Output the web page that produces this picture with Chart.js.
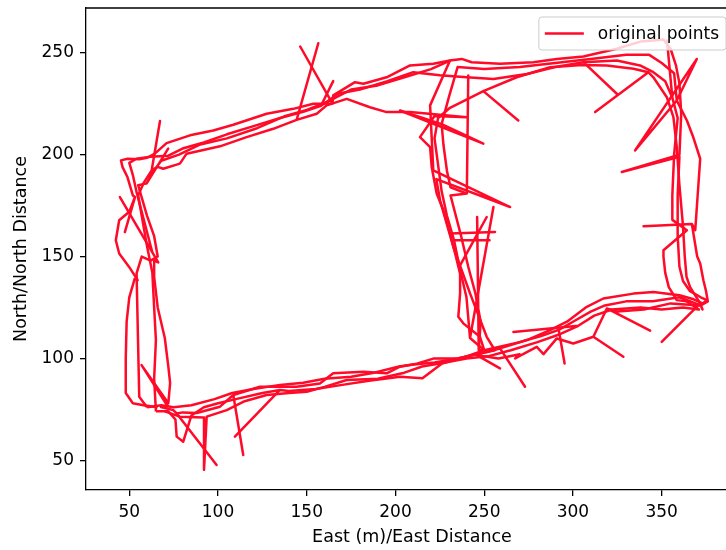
<!DOCTYPE html>
<html>
<head>
<meta charset="utf-8">
<script src="https://cdn.jsdelivr.net/npm/chart.js@4.4.0/dist/chart.umd.min.js"></script>
<style>
html, body { margin: 0; padding: 0; background: #fff; overflow: hidden; }
#wrap { width: 746px; height: 550px; }
</style>
</head>
<body>
<div id="wrap"><canvas id="track" width="746" height="550"></canvas></div>
<script>
// [east, north] pairs, one array per lap
const outerLap1 = [[66,76],[58,77],[52,78],[48,83],[48,100],[48.5,118],[50,130],[53,139],[54.7,138.4],[49.9,144.9],[44.3,151.5],[42.4,158],[44.3,167.8],[50,172],[53.2,179.2],[47.5,162],[53.2,179.2],[52,180],[49,188.9],[46.2,193.9],[45.3,197.2],[49,198],[55.6,197.8],[60,198.5],[64.4,200.5],[71,205.7],[84.2,209.5],[97.3,211.9],[108.6,214.7],[127.4,220.1],[142.4,222.5],[153.7,225],[164.5,225.1],[146.3,253.1],[164.5,225.1],[164.9,229.1],[177.2,235.6],[181.9,234.8],[195,238],[208.2,243.8],[221.3,244.6],[230.7,246.2],[237.3,247],[242.9,245.4],[258.9,244.6],[277.7,245.4],[290.9,247],[305.9,248.2],[324.7,252],[338,255.5],[345.3,256],[351,256.5],[355,252],[358,244],[360,235],[361,220],[360,200],[327.5,191.5],[360,199],[359,180],[359,160],[360,145],[362,138],[366,133],[372,130],[375.5,128.6],[373,127],[368,129],[360,131],[345.3,132.6],[334.1,131.8],[317.1,129.4],[307.8,125.3],[296.6,118],[287.1,113.9],[274,109],[258.9,104.9],[273,86.1],[258.9,104.9],[247.6,102.4],[234.5,99.9],[221.3,99.9],[212,97.4],[202.5,95.9],[195,92.7],[181.9,93.4],[164.9,92.7],[157.4,87.7],[144.3,86.1],[123.6,86.1],[108.6,82],[114.2,52.6],[108.6,82],[101.1,76.3],[88,73.2],[80,73.5],[76.7,73],[99.2,47.7],[76.7,73],[74.8,74.6],[67.3,76.3]];

const outerLap2 = [[72,76],[56.9,96.7],[72,78],[73,88],[72,96],[70,110],[66,125],[64,140],[64,148],[66.3,147.1],[44.7,179.2],[66.3,147.1],[63,152],[57,172],[54,182],[52,190],[50,196],[54,198],[62,199],[72,199.5],[80,203],[92,206],[105,210],[120,214],[135,218],[148,221],[158,224],[164.9,236.1],[158,224],[168,230],[180,232],[195,236],[210,240.5],[225,239],[240.2,238],[255.2,237.2],[274,239.6],[290,243],[305.9,245.4],[324.7,229.9],[305.9,245.4],[324.7,246.2],[337.8,243.8],[345.3,240.5],[352,236],[356,228],[353,256],[356,228],[359,218],[357,200],[356,180],[356,168],[364.2,162.9],[351,153.1],[351,150],[352,142],[354,135],[358.5,128.6],[364,128],[371,124],[362,125],[350,124],[338,125],[322,124],[312,121],[303,116],[266.4,113],[303,116],[293,112],[280,108],[265,104],[252,101],[240,100],[228,98],[215,96],[205,93],[190,90],[172.5,89.4],[160,86],[150,83.6],[140,83],[127.4,82],[115,79],[104.9,74.6],[93.6,71.4],[92.1,45.3],[92.1,71],[78.5,71.4],[70,74]];

const leftLap1 = [[65,74],[64,90],[65,109],[64,125],[63,142],[60,155],[57,170],[55,180],[58,186],[62.6,192.3],[67.3,216.5],[62.6,192.3],[66,194],[69.1,193.1],[78.5,195.6],[82.3,200.5],[101.1,204.1],[116.1,208.6],[131.1,212.7],[144.3,217.1],[156.5,254.7],[144.3,217.1],[155.6,220.1],[161.2,224.2],[172.5,227.4],[185.6,223.3],[195,220.9],[208.2,220.9],[240.2,218.4],[222,219],[213.8,208.6],[219.5,203.7],[220.4,193.9],[223.2,180.9],[227,172.7],[230.7,161.3],[256.1,162.1],[230.7,161.3],[233.6,151.5],[236.4,141.6],[236.4,131.9],[235.4,120.4],[238.2,117.2],[247.6,110.6],[250,104],[240,101],[226.2,97.5],[215.2,90.2],[202.5,91],[185,89],[170,87],[155,85],[140,84],[134.9,84.5],[109.5,61.6],[134.9,84.5],[125,83],[110,80],[100,78],[92,76],[85,72],[80.4,59.1],[76.7,61.6],[76,70],[72,74],[65,74]];

const leftLap2 = [[60,76],[55.6,81.2],[54.1,141.7],[57,150],[62,148],[66,150],[64,160],[60,170],[55,185],[59.8,185.9],[71.9,203],[59.8,185.9],[62,190],[68,197],[78,200],[90,205],[105,208],[122,213],[138,219],[150,222],[162,226],[175,232],[190,234],[205,238],[220,242],[230.7,246.2],[219.5,224.2],[221.3,192.3],[264.6,174.3],[223,188],[225.1,177.6],[232.6,154.7],[242,131.9],[251.4,110.6],[256,104],[246,102],[235,100],[222,98],[210,97],[202,96],[188,93],[175,91],[160,90],[148,88],[135,87],[120,85],[108,83],[98,80],[85,77],[75,76],[68,77],[60,76]];

const rightLap1 = [[250,104],[242,110],[255.2,174.3],[242,110],[240,130],[236,145],[251.4,169.4],[236,145],[233,158],[253,158],[233,158],[229,170],[226,182],[224,195],[222,208],[224,218],[230.7,223],[240,227],[249.5,231.2],[269.2,216.8],[249.5,231.2],[268.3,238],[287.1,242.9],[305,244],[319.1,243.8],[334.1,242.2],[342.5,240.5],[312.5,220.9],[342.5,240.5],[345.3,238],[352.9,228.2],[356.6,218.4],[358.5,203.7],[360,185],[362,165],[363,150],[364,140],[366,135],[371.7,127],[350,108.1],[371.7,127],[373,124],[372,126],[355,127],[340,124],[325,123],[319.1,124.5],[343.5,113.6],[319.1,124.5],[311.5,110.6],[328.4,100.8],[311.5,110.6],[300.2,107.3],[290.9,109.8],[283.4,102.1],[279.6,105.7],[267.4,100],[270,102],[258,100],[245.8,101.6],[258.9,95.1],[245.8,101.6],[250,104]];

const rightLap2 = [[255,104],[246.9,104.1],[246,169.4],[246.9,104.1],[248,118],[245,132],[241,145],[237,160],[234,170],[231,180],[240.2,180.9],[241,238.9],[240.2,180.9],[231,184],[229,192],[227,205],[226,215],[249.5,205.4],[202.5,221.7],[226,215],[230,228],[235,243],[250,242],[270,243],[290,245],[310,247],[330,249],[343,249],[350,245],[357,240],[358.5,226.6],[369.8,247],[335,202.1],[358.5,226.6],[364.2,216.8],[367.9,208.3],[371.7,198],[368.9,162.9],[367,166],[339.8,164.9],[367,166],[370,150],[371.7,146.6],[373.5,138.4],[375,133],[376,128],[372,126],[360,130],[345,128],[330,128],[318,126],[310,123],[300,118],[292,114],[295.3,97.5],[292,114],[282,111],[270,108],[260,106],[250,104],[255,104]];

const eastTicks = [50, 100, 150, 200, 250, 300, 350];
const northTicks = [50, 100, 150, 200, 250];
const eastRange = [25.6, 393];
const northRange = [35.4, 272];

const lineColor = '#ff0a28';
const fontFamily = '"DejaVu Sans", sans-serif';
const laps = [outerLap1, outerLap2, leftLap1, leftLap2, rightLap1, rightLap2];

function toPoints(lap) {
    return lap.map(function (p) { return { x: p[0], y: p[1] }; });
}

var datasets = laps.map(function (lap, i) {
    return {
        label: i === 0 ? 'original points' : '',
        data: toPoints(lap),
        showLine: true,
        borderColor: lineColor,
        backgroundColor: lineColor,
        borderWidth: 2.5,
        borderJoinStyle: 'round',
        pointRadius: 0,
        tension: 0
    };
});

// top and right spines
var frame = {
    id: 'frame',
    afterDraw: function (chart) {
        var a = chart.chartArea, ctx = chart.ctx;
        ctx.save();
        ctx.strokeStyle = '#000';
        ctx.lineWidth = 1.3;
        ctx.beginPath();
        ctx.moveTo(a.left, a.top);
        ctx.lineTo(a.right, a.top);
        ctx.lineTo(a.right, a.bottom);
        ctx.stroke();
        ctx.restore();
    }
};

// matplotlib style legend box in the upper right corner
var legendBox = {
    id: 'legendBox',
    afterDraw: function (chart) {
        var a = chart.chartArea, ctx = chart.ctx;
        var text = chart.data.datasets[0].label;
        ctx.save();
        ctx.font = '17px ' + fontFamily;
        var tw = ctx.measureText(text).width;
        var h = 33, w = tw + 66;
        var right = a.right - 12;
        var left = right - w, top = a.top + 9;
        ctx.beginPath();
        ctx.roundRect(left, top, w, h, 3);
        ctx.fillStyle = 'rgba(255,255,255,0.8)';
        ctx.fill();
        ctx.strokeStyle = '#cccccc';
        ctx.lineWidth = 1;
        ctx.stroke();
        ctx.strokeStyle = lineColor;
        ctx.lineWidth = 2.5;
        ctx.beginPath();
        ctx.moveTo(left + 6, top + h / 2);
        ctx.lineTo(left + 45, top + h / 2);
        ctx.stroke();
        ctx.fillStyle = '#000';
        ctx.textBaseline = 'middle';
        ctx.fillText(text, left + 59, top + h / 2 + 1);
        ctx.restore();
    }
};

function axisOpts(range, ticks, title, horizontal) {
    return {
        type: 'linear',
        min: range[0],
        max: range[1],
        afterBuildTicks: function (s) {
            s.ticks = ticks.map(function (v) { return { value: v }; });
        },
        afterFit: function (s) {
            if (horizontal) {
                s.height = 60;
                s.paddingLeft = 0;
                s.paddingRight = 0;
            } else {
                s.width = 86;
                s.paddingTop = 0;
                s.paddingBottom = 0;
            }
        },
        grid: { drawOnChartArea: false, drawTicks: true, tickLength: 6, color: '#000', lineWidth: 1.3 },
        border: { display: true, color: '#000', width: 1.3 },
        ticks: {
            color: '#000',
            padding: 6,
            maxRotation: 0,
            autoSkip: false,
            font: { family: fontFamily, size: 17 }
        },
        title: {
            display: true,
            text: title,
            color: '#000',
            font: { family: fontFamily, size: 17.5 },
            padding: horizontal ? { top: 0, bottom: 2 } : { top: 11, bottom: 0 }
        }
    };
}

new Chart(document.getElementById('track'), {
    type: 'scatter',
    data: { datasets: datasets },
    options: {
        responsive: false,
        animation: false,
        layout: { padding: { left: 0, right: 8, top: 8, bottom: 0 } },
        plugins: {
            legend: { display: false },
            tooltip: { enabled: false }
        },
        scales: {
            x: axisOpts(eastRange, eastTicks, 'East (m)/East Distance', true),
            y: axisOpts(northRange, northTicks, 'North/North Distance', false)
        }
    },
    plugins: [frame, legendBox]
});
</script>
</body>
</html>
